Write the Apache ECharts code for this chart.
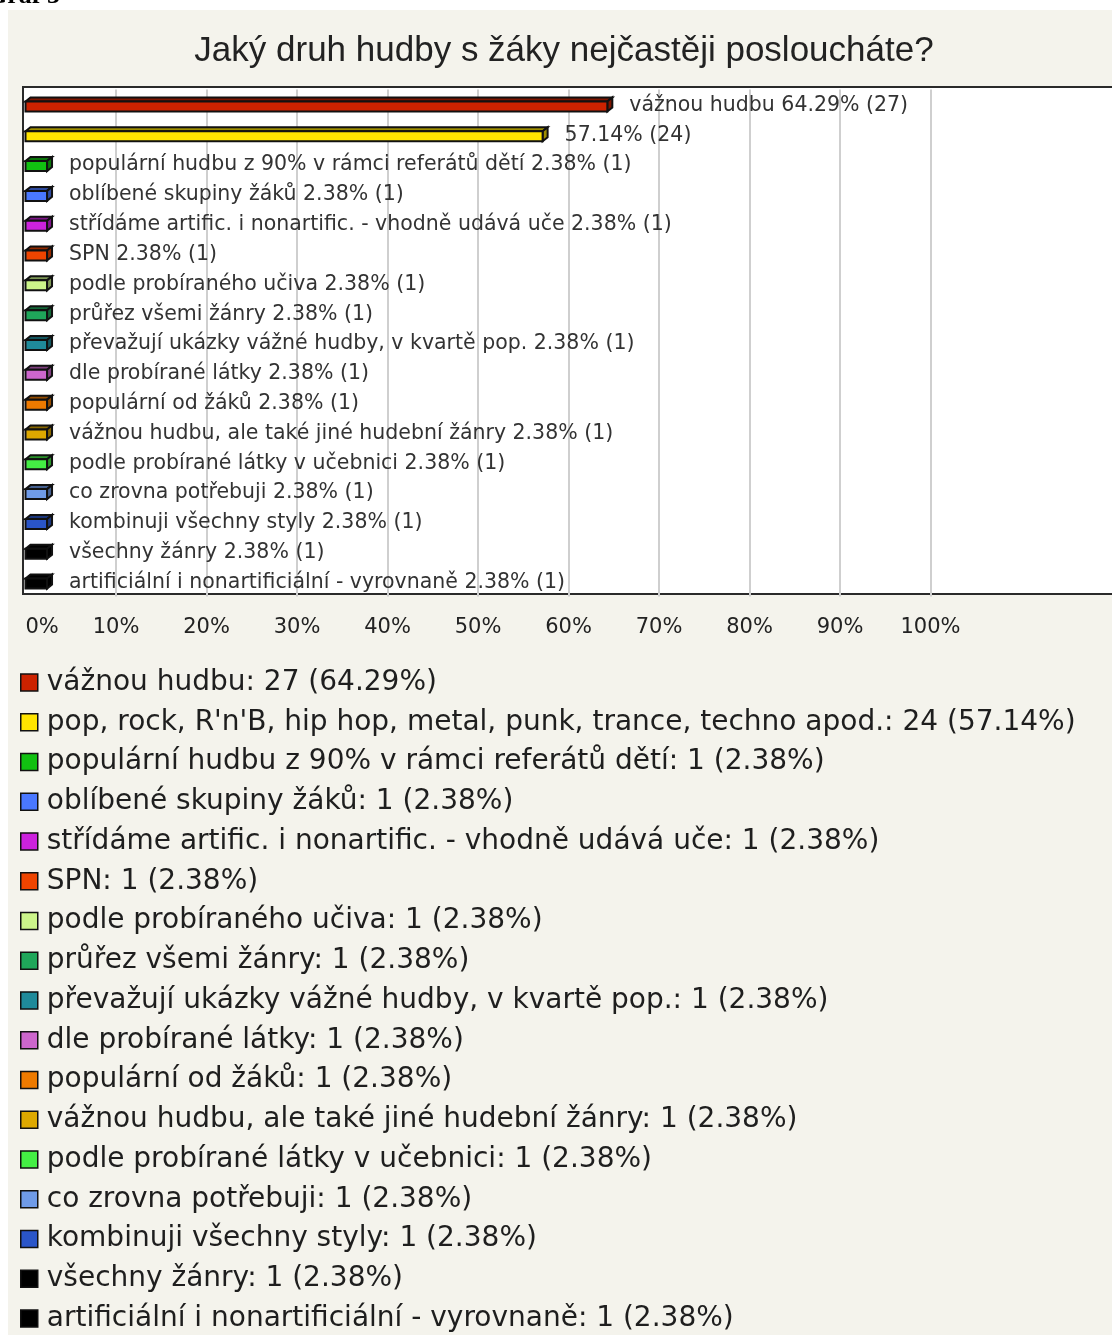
<!DOCTYPE html>
<html>
<head>
<meta charset="utf-8">
<script src="https://cdn.jsdelivr.net/npm/echarts@6/dist/echarts.min.js"></script>
<style>
  html, body { margin: 0; padding: 0; background: #fff; }
  #chart { width: 1112px; height: 1335px; }
</style>
</head>
<body>
<div id="chart"></div>
<script>
// odpovědi (pořadí jako v grafu, shora dolů)
const categories = [
  'vážnou hudbu',
  "pop, rock, R'n'B, hip hop, metal, punk, trance, techno apod.",
  'populární hudbu z 90% v rámci referátů dětí',
  'oblíbené skupiny žáků',
  'střídáme artific. i nonartific. - vhodně udává uče',
  'SPN',
  'podle probíraného učiva',
  'průřez všemi žánry',
  'převažují ukázky vážné hudby, v kvartě pop.',
  'dle probírané látky',
  'populární od žáků',
  'vážnou hudbu, ale také jiné hudební žánry',
  'podle probírané látky v učebnici',
  'co zrovna potřebuji',
  'kombinuji všechny styly',
  'všechny žánry',
  'artificiální i nonartificiální - vyrovnaně'
]
const counts = [27, 24, 1, 1, 1, 1, 1, 1, 1, 1, 1, 1, 1, 1, 1, 1, 1]
const percents = [64.29, 57.14, 2.38, 2.38, 2.38, 2.38, 2.38, 2.38, 2.38, 2.38, 2.38, 2.38, 2.38, 2.38, 2.38, 2.38, 2.38]
// popisek u sloupce bez názvu (příliš dlouhý)
const hideNameInPlot = [false, true, false, false, false, false, false, false, false, false, false, false, false, false, false, false, false]
const xTicks = [0, 10, 20, 30, 40, 50, 60, 70, 80, 90, 100]

const colors = [
  '#cc2200', '#ffe400', '#11c011', '#4a78ff', '#cc22dd', '#ee4400',
  '#ccf58a', '#1fa65a', '#1f8a9a', '#cc66cc', '#ee7a00', '#dda800',
  '#44ee44', '#6f9be8', '#2a55c8', '#000000', '#000000'
]

const DEPTH_X = 5
const DEPTH_Y = 4

function shade (hex, f) {
  const n = parseInt(hex.slice(1), 16)
  const r = Math.round(((n >> 16) & 255) * f)
  const g = Math.round(((n >> 8) & 255) * f)
  const b = Math.round((n & 255) * f)
  return 'rgb(' + r + ',' + g + ',' + b + ')'
}

function plotLabel (i) {
  const tail = percents[i].toFixed(2) + '% (' + counts[i] + ')'
  return hideNameInPlot[i] ? tail : categories[i] + ' ' + tail
}

function renderBar (params, api) {
  const idx = api.value(1)
  const start = api.coord([0, idx])
  const end = api.coord([api.value(0), idx])
  const cy = start[1]
  const x0 = start[0]
  const x1 = end[0]
  const color = api.visual('color')
  const dark = shade(color, 0.62)
  const line = { stroke: '#111', lineWidth: 2 }
  const frontTop = cy - 3
  const frontBottom = cy + 7
  return {
    type: 'group',
    children: [
      {
        type: 'polygon',
        shape: { points: [[x0, frontTop], [x0 + DEPTH_X, frontTop - DEPTH_Y], [x1 + DEPTH_X, frontTop - DEPTH_Y], [x1, frontTop]] },
        style: Object.assign({ fill: dark }, line)
      },
      {
        type: 'polygon',
        shape: { points: [[x1, frontTop], [x1 + DEPTH_X, frontTop - DEPTH_Y], [x1 + DEPTH_X, frontBottom - DEPTH_Y], [x1, frontBottom]] },
        style: Object.assign({ fill: dark }, line)
      },
      {
        type: 'rect',
        shape: { x: x0, y: frontTop, width: x1 - x0, height: frontBottom - frontTop },
        style: Object.assign({ fill: color }, line)
      },
      {
        type: 'text',
        style: {
          text: plotLabel(params.seriesIndex),
          x: x1 + 22,
          y: cy + 1,
          verticalAlign: 'middle',
          align: 'left',
          fill: '#333',
          font: '20.5px "DejaVu Sans"'
        }
      }
    ]
  }
}

const series = categories.map((name, i) => ({
  name: name,
  type: 'custom',
  renderItem: renderBar,
  clip: false,
  itemStyle: { color: colors[i] },
  encode: { x: 0, y: 1 },
  data: [[percents[i], i]]
}))

const chart = echarts.init(document.getElementById('chart'))
chart.setOption({
  backgroundColor: '#ffffff',
  animation: false,
  title: {
    text: 'Jaký druh hudby s žáky nejčastěji posloucháte?',
    left: 564,
    top: 33,
    padding: 0,
    textAlign: 'center',
    textStyle: { fontFamily: 'Liberation Sans', fontSize: 35, fontWeight: 'normal', color: '#222', lineHeight: 36 }
  },
  graphic: [
    { type: 'rect', z: -10, silent: true, shape: { x: 8, y: 10, width: 1110, height: 1330 }, style: { fill: '#f4f3ec' } },
    { type: 'rect', z: -5, silent: true, shape: { x: 23, y: 87, width: 1100, height: 507 }, style: { fill: '#ffffff', stroke: '#2a2a2a', lineWidth: 2 } },
    { type: 'text', z: -5, silent: true, x: -13, y: 9, style: { text: 'Graf 3', font: 'bold 26px "Liberation Serif"', fill: '#000', verticalAlign: 'bottom' } }
  ],
  grid: { left: 25.5, right: 181.5, top: 89.5, bottom: 738.5, containLabel: false },
  xAxis: {
    type: 'value',
    min: 0,
    max: 100,
    interval: 10,
    axisLine: { show: false },
    axisTick: { show: false },
    axisLabel: {
      margin: 21,
      alignMinLabel: 'left',
      fontFamily: 'DejaVu Sans',
      fontSize: 21,
      color: '#222',
      formatter: v => xTicks.indexOf(v) >= 0 ? v + '%' : ''
    },
    splitLine: { show: true, showMinLine: false, lineStyle: { color: '#cfcfcf', width: 2 } }
  },
  yAxis: {
    type: 'category',
    inverse: true,
    data: categories,
    axisLine: { show: false },
    axisTick: { show: false },
    axisLabel: { show: false },
    splitLine: { show: false }
  },
  legend: {
    orient: 'vertical',
    left: 20,
    top: 667.5,
    padding: 0,
    itemGap: 9.75,
    itemWidth: 17,
    itemHeight: 17,
    icon: 'rect',
    selectedMode: false,
    itemStyle: { borderColor: '#111', borderWidth: 1.5 },
    textStyle: { fontFamily: 'DejaVu Sans', fontSize: 28, color: '#1e1e1e', lineHeight: 30, padding: [0, 0, 0, 4] },
    formatter: name => {
      const i = categories.indexOf(name)
      return name + ': ' + counts[i] + ' (' + percents[i].toFixed(2) + '%)'
    },
    data: categories
  },
  series: series
})
</script>
</body>
</html>
